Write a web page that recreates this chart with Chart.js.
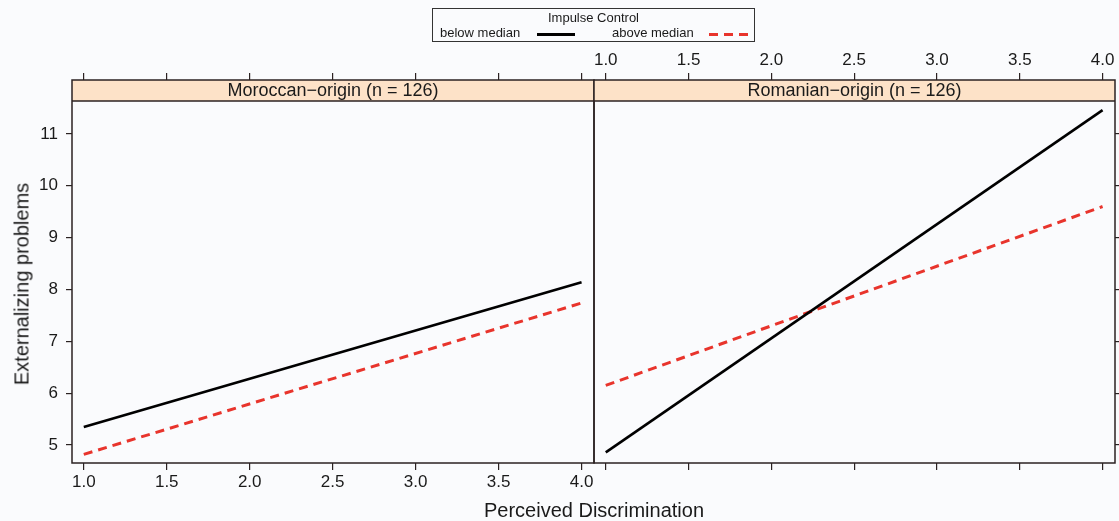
<!DOCTYPE html>
<html>
<head>
<meta charset="utf-8">
<script src="https://cdn.jsdelivr.net/npm/chart.js@4.4.0/dist/chart.umd.min.js"></script>
<style>
    html, body {
        margin: 0;
        padding: 0;
        width: 1119px;
        height: 521px;
        background: #fafbfd;
        overflow: hidden;
        font-family: "Liberation Sans", Arial, sans-serif;
        color: #1a1a1a;
    }
    canvas { position: absolute; top: 0; }
    #left-panel { left: 0; }
    #right-panel { left: 560px; }
    .legend-box {
        position: absolute;
        left: 432px; top: 8px;
        width: 321px; height: 32px;
        border: 1.5px solid #333;
        font-size: 13px;
    }
    .legend-title { position: absolute; left: 0; right: 0; top: 1px; text-align: center; }
    .legend-item { position: absolute; top: 16px; }
    .legend-line { position: absolute; top: 24px; height: 2.5px; }
    .x-title {
        position: absolute; left: 0; width: 1188px; top: 499px;
        text-align: center; font-size: 20px;
    }
    .y-title {
        position: absolute; left: 22px; top: 284px;
        font-size: 20px; white-space: nowrap;
        transform: translate(-50%, -50%) rotate(-90deg);
    }
</style>
</head>
<body>
<canvas id="left-panel" width="600" height="521"></canvas>
<canvas id="right-panel" width="559" height="521"></canvas>

<div class="legend-box">
    <div class="legend-title">Impulse Control</div>
    <div class="legend-item" style="left:7px">below median</div>
    <div class="legend-line" style="left:104px;width:38px;background:#000"></div>
    <div class="legend-item" style="left:179px">above median</div>
    <div class="legend-line" style="left:276px;width:40px;background:repeating-linear-gradient(to right,#e8342c 0 9px,transparent 9px 15px)"></div>
</div>
<div class="x-title">Perceived Discrimination</div>
<div class="y-title">Externalizing problems</div>

<script>
// Data (line endpoints at x = 1.0 and x = 4.0)
const xValues = [1.0, 4.0];
const moroccanBelow = [5.35, 8.14];
const moroccanAbove = [4.82, 7.74];
const romanianBelow = [4.86, 11.46];
const romanianAbove = [6.15, 9.6];

const panelLabels = ['Moroccan\u2212origin (n = 126)', 'Romanian\u2212origin (n = 126)'];
const seriesLabels = ['below median', 'above median'];
const xTicks = [1.0, 1.5, 2.0, 2.5, 3.0, 3.5, 4.0];
const yTicks = [5, 6, 7, 8, 9, 10, 11];

const X_MIN = 0.929, X_MAX = 4.075;
const Y_MIN = 4.654, Y_MAX = 12.04;
const STRIP_H = 21;
const TICK_FONT = { family: '"Liberation Sans", Arial, sans-serif', size: 17 };
const INK = '#2b2222';

const toPoints = (ys) => xValues.map((x, i) => ({ x: x, y: ys[i] }));

// Frame + strip drawn over the chart area
const stripPlugin = {
    id: 'strip',
    beforeDatasetsDraw(chart, args, opts) {
        const { ctx, chartArea: a } = chart;
        ctx.save();
        ctx.fillStyle = '#fde2c8';
        ctx.fillRect(a.left, a.top, a.right - a.left, STRIP_H);
        ctx.strokeStyle = INK;
        ctx.lineWidth = 1.5;
        ctx.strokeRect(a.left, a.top, a.right - a.left, a.bottom - a.top);
        ctx.beginPath();
        ctx.moveTo(a.left, a.top + STRIP_H);
        ctx.lineTo(a.right, a.top + STRIP_H);
        ctx.stroke();
        ctx.fillStyle = '#1a1a1a';
        ctx.font = '18px "Liberation Sans", Arial, sans-serif';
        ctx.textAlign = 'center';
        ctx.textBaseline = 'middle';
        ctx.fillText(opts.label, (a.left + a.right) / 2, a.top + STRIP_H / 2 + 1);
        ctx.restore();
    }
};

function xAxis(position, showLabels, height) {
    return {
        type: 'linear',
        position: position,
        min: X_MIN,
        max: X_MAX,
        afterBuildTicks: (scale) => { scale.ticks = xTicks.map(v => ({ value: v })); },
        afterFit: (scale) => { scale.height = height; },
        border: { display: false },
        grid: { drawOnChartArea: false, drawTicks: true, tickLength: 7, tickColor: INK, lineWidth: 1.2 },
        ticks: {
            display: showLabels,
            color: '#1a1a1a',
            font: TICK_FONT,
            padding: 2,
            maxRotation: 0,
            callback: (v) => Number(v).toFixed(1)
        }
    };
}

function yAxis(position, showLabels, width) {
    return {
        type: 'linear',
        position: position,
        min: Y_MIN,
        max: Y_MAX,
        afterBuildTicks: (scale) => { scale.ticks = yTicks.map(v => ({ value: v })); },
        afterFit: (scale) => { scale.width = width; },
        border: { display: false },
        grid: { drawOnChartArea: false, drawTicks: true, tickLength: 6, tickColor: INK, lineWidth: 1.2 },
        ticks: {
            display: showLabels,
            color: '#1a1a1a',
            font: TICK_FONT,
            padding: 8
        }
    };
}

function makePanel(canvasId, label, below, above, isLeft) {
    const ctx = document.getElementById(canvasId).getContext('2d');
    return new Chart(ctx, {
        type: 'scatter',
        data: {
            datasets: [
                {
                    label: seriesLabels[0],
                    data: toPoints(below),
                    showLine: true,
                    borderColor: '#000000',
                    borderWidth: 2.6,
                    pointRadius: 0,
                    xAxisID: 'x',
                    yAxisID: 'y'
                },
                {
                    label: seriesLabels[1],
                    data: toPoints(above),
                    showLine: true,
                    borderColor: '#e8342c',
                    borderWidth: 3,
                    borderDash: [9, 6],
                    pointRadius: 0,
                    xAxisID: 'x',
                    yAxisID: 'y'
                }
            ]
        },
        plugins: [stripPlugin],
        options: {
            responsive: false,
            animation: false,
            layout: {
                padding: isLeft ? { left: 0, right: 6, top: 0, bottom: 0 } : { left: 34, right: 0, top: 0, bottom: 0 }
            },
            plugins: {
                legend: { display: false },
                tooltip: { enabled: false },
                strip: { label: label }
            },
            scales: {
                x: xAxis('bottom', isLeft, 58),
                x2: xAxis('top', !isLeft, 80),
                y: isLeft ? yAxis('left', true, 72) : yAxis('right', false, 4)
            }
        }
    });
}

makePanel('left-panel', panelLabels[0], moroccanBelow, moroccanAbove, true);
makePanel('right-panel', panelLabels[1], romanianBelow, romanianAbove, false);
</script>
</body>
</html>
